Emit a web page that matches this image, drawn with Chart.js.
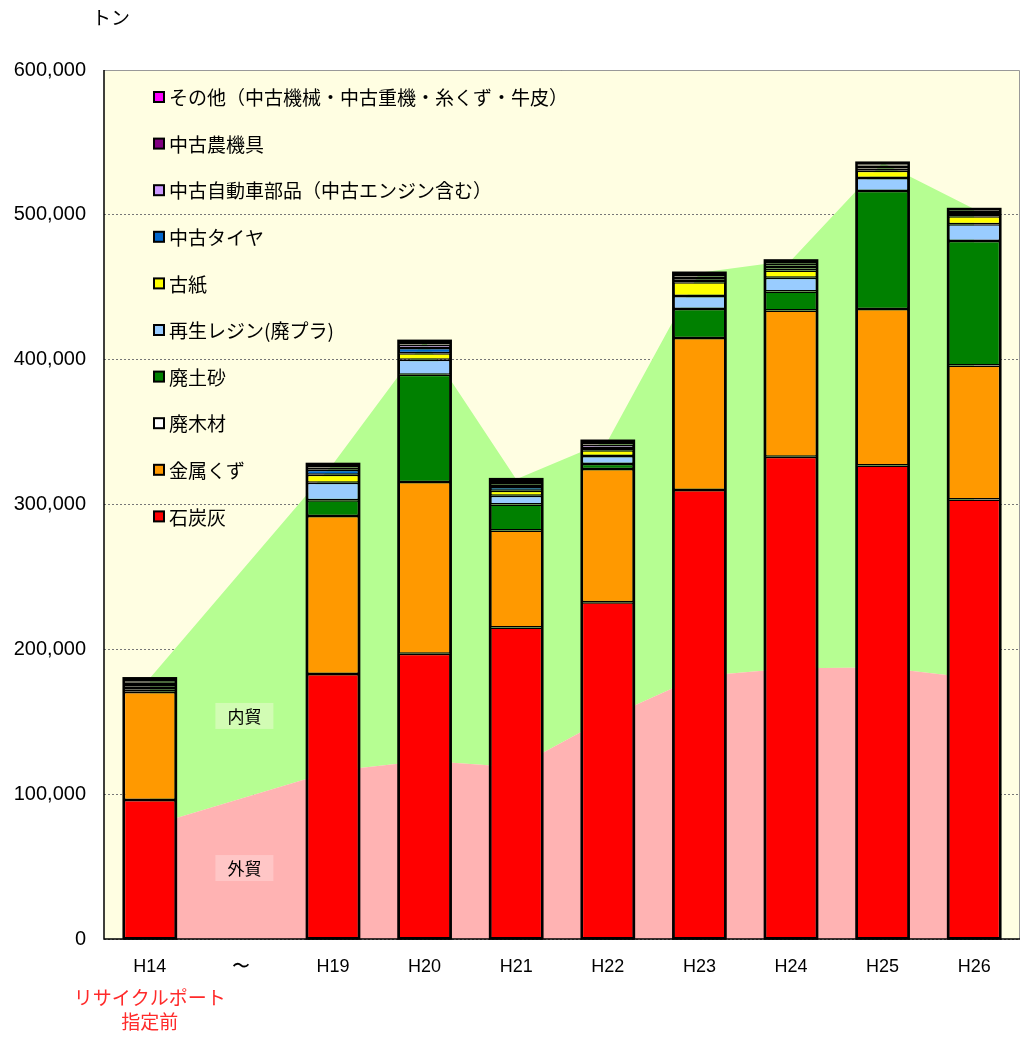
<!DOCTYPE html>
<html lang="ja">
<head>
<meta charset="utf-8">
<title>リサイクルポート 取扱量</title>
<script src="https://cdn.jsdelivr.net/npm/chart.js@4.4.1/dist/chart.umd.min.js"></script>
<style>
  html, body { margin: 0; padding: 0; background: #fff; }
  canvas { display: block; }
</style>
</head>
<body>
<canvas id="chart" width="1022" height="1039"></canvas>
<script>
// 年度
const years = ['H14', '〜', 'H19', 'H20', 'H21', 'H22', 'H23', 'H24', 'H25', 'H26'];

// 品目別（トン）
const sekitanbai = [96000, null, 183000, 197000, 215000, 232500, 310000, 333000, 327000, 303500];
const kinzokukuzu = [74500, null, 109000, 118500, 67000, 92000, 105000, 101000, 108000, 92500];
const haimokuzai = [0, null, 0, 0, 0, 0, 0, 0, 0, 0];
const haidosha = [500, null, 11000, 74000, 18000, 3500, 20000, 13000, 81500, 86000];
const saiseiResin = [1500, null, 12000, 10500, 6000, 5500, 9000, 9500, 9000, 11500];
const koshi = [2000, null, 5500, 4500, 3500, 4000, 9500, 5000, 5000, 5500];
const chukoTire = [1500, null, 3500, 3500, 2500, 1500, 2000, 1500, 1500, 1500];
const chukoBuhin = [1000, null, 1500, 2500, 2000, 2500, 2000, 2000, 2000, 1500];
const chukoNoukigu = [1000, null, 1000, 1000, 1500, 1000, 1000, 1500, 1000, 1000];
const sonota = [2000, null, 1500, 1500, 2000, 1500, 1500, 2000, 1000, 1000];

// 外貿・内貿（背景の面グラフ）
const gaiboe = [78000, null, 116000, 123000, 118500, 153000, 181500, 187000, 187500, 180000];
const naiboe = [102000, null, 212000, 290000, 199000, 191000, 278500, 281500, 348500, 324000];

// 目盛
const yMax = 600000;
const yStep = 100000;

const jpFont = '"Noto Sans CJK JP", "Noto Sans", sans-serif';
const numFont = '"Liberation Sans", Arial, sans-serif';

function bar(label, data, color) {
  return {
    type: 'bar', label: label, data: data, backgroundColor: color,
    borderColor: '#000', borderWidth: 1.5, borderSkipped: false, order: 0
  };
}

const plotBg = {
  id: 'plotBg',
  beforeDraw(chart) {
    const { ctx, chartArea: a } = chart;
    ctx.save();
    ctx.fillStyle = '#fffee2';
    ctx.fillRect(a.left, a.top, a.right - a.left, a.bottom - a.top);
    ctx.restore();
  },
  afterDatasetsDraw(chart) {
    const { ctx, chartArea: a, scales } = chart;
    ctx.save();

    // 棒の外枠
    const metas = chart.getSortedVisibleDatasetMetas().filter(m => m.type === 'bar');
    chart.data.labels.forEach((_, i) => {
      let top = Infinity, bottom = -Infinity, left = 0, right = 0;
      metas.forEach(m => {
        const el = m.data[i];
        if (chart.data.datasets[m.index].data[i] == null) return;
        if (!el || !isFinite(el.y) || !isFinite(el.base)) return;
        top = Math.min(top, el.y, el.base);
        bottom = Math.max(bottom, el.y, el.base);
        left = el.x - el.width / 2;
        right = el.x + el.width / 2;
      });
      if (!isFinite(top)) return;
      ctx.strokeStyle = '#000';
      ctx.lineWidth = 2.5;
      ctx.strokeRect(left, top, right - left, bottom - top);
    });

    // 枠
    ctx.strokeStyle = '#999';
    ctx.lineWidth = 1;
    ctx.beginPath();
    ctx.moveTo(a.left, a.top + 0.5);
    ctx.lineTo(a.right - 0.5, a.top + 0.5);
    ctx.lineTo(a.right - 0.5, a.bottom);
    ctx.stroke();
    ctx.strokeStyle = '#000';
    ctx.lineWidth = 1.5;
    ctx.beginPath();
    ctx.moveTo(a.left, a.top);
    ctx.lineTo(a.left, a.bottom);
    ctx.lineTo(a.right, a.bottom);
    ctx.stroke();

    // 凡例（上から逆順）
    const bars = chart.data.datasets.filter(d => d.type === 'bar').slice().reverse();
    ctx.font = '19px ' + jpFont;
    ctx.textBaseline = 'middle';
    ctx.textAlign = 'left';
    bars.forEach((d, i) => {
      const y = 97 + i * 46.6;
      ctx.fillStyle = d.backgroundColor;
      ctx.fillRect(154, y - 5, 10, 10);
      ctx.strokeStyle = '#000';
      ctx.lineWidth = 2;
      ctx.strokeRect(154, y - 5, 10, 10);
      ctx.fillStyle = '#000';
      ctx.fillText(d.label, 169, y + 1);
    });

    // 内貿・外貿ラベル
    const cx = scales.x.getPixelForValue(1) + 3;
    const boxes = [
      { text: '内貿', v: 154000, bg: '#d2fcb4' },
      { text: '外貿', v: 49000, bg: '#ffc6c6' }
    ];
    ctx.textAlign = 'center';
    ctx.font = '17px ' + jpFont;
    boxes.forEach(b => {
      const y = scales.y.getPixelForValue(b.v);
      ctx.fillStyle = b.bg;
      ctx.fillRect(cx - 29, y - 13, 58, 26);
      ctx.fillStyle = '#000';
      ctx.fillText(b.text, cx, y + 1);
    });

    // 単位・注記
    ctx.textAlign = 'left';
    ctx.font = '19px ' + jpFont;
    ctx.fillText('トン', 92, 18);
    const hx = scales.x.getPixelForValue(0);
    ctx.textAlign = 'center';
    ctx.fillStyle = '#ff2a2a';
    ctx.fillText('リサイクルポート', hx, 998);
    ctx.fillText('指定前', hx, 1022);
    ctx.restore();
  }
};

new Chart(document.getElementById('chart'), {
  data: {
    labels: years,
    datasets: [
      bar('石炭灰', sekitanbai, '#ff0000'),
      bar('金属くず', kinzokukuzu, '#ff9900'),
      bar('廃木材', haimokuzai, '#ffffff'),
      bar('廃土砂', haidosha, '#008000'),
      bar('再生レジン(廃プラ)', saiseiResin, '#99ccff'),
      bar('古紙', koshi, '#ffff00'),
      bar('中古タイヤ', chukoTire, '#0066cc'),
      bar('中古自動車部品（中古エンジン含む）', chukoBuhin, '#cc99ff'),
      bar('中古農機具', chukoNoukigu, '#800080'),
      bar('その他（中古機械・中古重機・糸くず・牛皮）', sonota, '#ff00ff'),
      { type: 'line', label: '外貿', data: gaiboe, stack: 'area', order: 10,
        backgroundColor: '#ffb3b3', borderWidth: 0, pointRadius: 0, tension: 0,
        fill: 'origin', spanGaps: true },
      { type: 'line', label: '内貿', data: naiboe, stack: 'area', order: 10,
        backgroundColor: '#b6fe92', borderWidth: 0, pointRadius: 0, tension: 0,
        fill: '-1', spanGaps: true }
    ]
  },
  options: {
    responsive: false,
    animation: false,
    layout: { padding: { top: 70, right: 2, left: 0, bottom: 0 } },
    datasets: { bar: { barPercentage: 0.57, categoryPercentage: 1 } },
    plugins: { legend: { display: false }, tooltip: { enabled: false } },
    scales: {
      x: {
        stacked: true,
        grid: { display: false, drawTicks: false },
        border: { display: false },
        ticks: { color: '#000', font: { family: numFont, size: 18 }, padding: 17, autoSkip: false, maxRotation: 0 },
        afterFit(s) { s.height = 100; }
      },
      y: {
        stacked: true,
        min: 0, max: yMax,
        grid: { color: '#777', lineWidth: 1, drawTicks: false },
        border: { display: false, dash: [2, 2] },
        ticks: { stepSize: yStep, color: '#000', font: { family: numFont, size: 20 }, padding: 18 },
        afterFit(s) { s.width = 104; }
      }
    }
  },
  plugins: [plotBg]
});
</script>
</body>
</html>
